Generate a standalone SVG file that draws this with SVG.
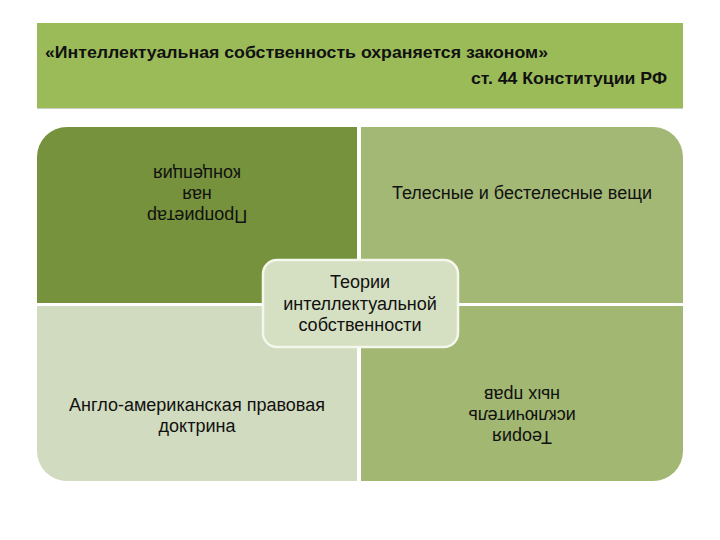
<svg xmlns="http://www.w3.org/2000/svg" width="720" height="540" viewBox="0 0 720 540">
  <style>
    .t { font-family: "Liberation Sans", Arial, sans-serif; font-size: 18px; fill: #111; text-anchor: middle; }
    .h { font-family: "Liberation Sans", Arial, sans-serif; font-size: 17px; font-weight: bold; fill: #111; }
  </style>
  <rect width="720" height="540" fill="#ffffff"/>
  <g id="header">
    <rect x="37" y="23" width="646" height="85" fill="#9bbb59"/>
    <line x1="37" y1="108.5" x2="683" y2="108.5" stroke="#c9cfc0" stroke-width="1"/>
    <text class="h" x="45" y="58" textLength="503" lengthAdjust="spacingAndGlyphs">«Интеллектуальная собственность охраняется законом»</text>
    <text class="h" x="667" y="84" text-anchor="end" textLength="196" lengthAdjust="spacingAndGlyphs">ст. 44 Конституции РФ</text>
  </g>
  <g id="top-left">
    <path d="M37 303 V157 A30 30 0 0 1 67 127 H357 V303 Z" fill="#76923c"/>
    <g transform="rotate(180 197 190)">
      <text class="t" x="197" y="170">Проприетар</text>
      <text class="t" x="197" y="191">ная</text>
      <text class="t" x="197" y="212">концепция</text>
    </g>
  </g>
  <g id="top-right">
    <path d="M361 127 H653 A30 30 0 0 1 683 157 V303 H361 Z" fill="#a4b876"/>
    <text class="t" x="522" y="199">Телесные и бестелесные вещи</text>
  </g>
  <g id="bottom-left">
    <path d="M37 306 H357 V481 H67 A30 30 0 0 1 37 451 Z" fill="#d1dbbf"/>
    <text class="t" x="197" y="411">Англо-американская правовая</text>
    <text class="t" x="197" y="432">доктрина</text>
  </g>
  <g id="bottom-right">
    <path d="M361 306 H683 V451 A30 30 0 0 1 653 481 H361 Z" fill="#a2b771"/>
    <g transform="rotate(180 522 410)">
      <text class="t" x="522" y="389">Теория</text>
      <text class="t" x="522" y="410">исключитель</text>
      <text class="t" x="522" y="431">ных прав</text>
    </g>
  </g>
  <g id="center">
    <rect x="263" y="260" width="195" height="87" rx="14" ry="14" fill="#d5dfc1" stroke="#f4f7ec" stroke-width="2.5"/>
    <text class="t" x="360" y="288">Теории</text>
    <text class="t" x="360" y="310">интеллектуальной</text>
    <text class="t" x="360" y="331">собственности</text>
  </g>
  <g id="connectors"/>
</svg>
